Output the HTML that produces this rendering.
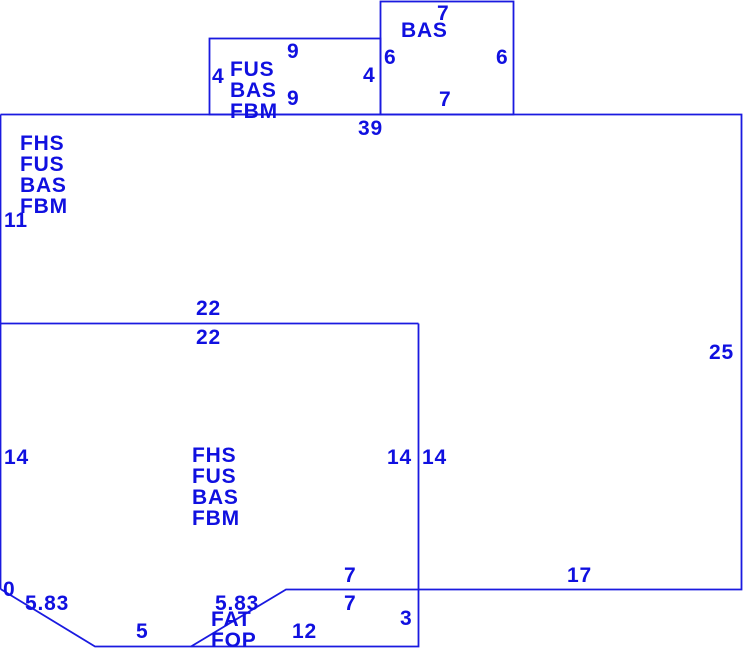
<!DOCTYPE html>
<html><head><meta charset="utf-8"><style>
html,body{margin:0;padding:0;background:#fff;width:752px;height:662px;overflow:hidden}
svg text{font-family:"Liberation Sans",sans-serif;font-weight:bold;font-size:21px;letter-spacing:0.8px;fill:#1010e0}
</style></head><body>
<svg width="752" height="662" xmlns="http://www.w3.org/2000/svg">
<g fill="none" stroke="#1a1ae0" stroke-width="1.8">
<rect x="209.5" y="38.5" width="171" height="76"/>
<rect x="380.5" y="1.5" width="133" height="113"/>
<polyline points="0.5,114.5 741.5,114.5 741.5,589.5 286,589.5 191,646.5"/>
<line x1="0.5" y1="114.5" x2="0.5" y2="589"/>
<line x1="0.5" y1="323.5" x2="418.5" y2="323.5"/>
<polyline points="418.5,323.5 418.5,646.5 95,646.5 0.5,589"/>
</g>
<text x="437" y="20">7</text>
<text x="401" y="37">BAS</text>
<text x="287" y="58">9</text>
<text x="384" y="64">6</text>
<text x="496" y="64">6</text>
<text x="212" y="83">4</text>
<text x="230" y="76">FUS</text>
<text x="363" y="82">4</text>
<text x="230" y="97">BAS</text>
<text x="287" y="105">9</text>
<text x="439" y="106">7</text>
<text x="230" y="118">FBM</text>
<text x="358" y="135">39</text>
<text x="20" y="150">FHS</text>
<text x="20" y="171">FUS</text>
<text x="20" y="192">BAS</text>
<text x="20" y="213">FBM</text>
<text x="4" y="227">11</text>
<text x="196" y="315">22</text>
<text x="196" y="344">22</text>
<text x="709" y="359">25</text>
<text x="4" y="464">14</text>
<text x="387" y="464">14</text>
<text x="422" y="464">14</text>
<text x="192" y="462">FHS</text>
<text x="192" y="483">FUS</text>
<text x="192" y="504">BAS</text>
<text x="192" y="525">FBM</text>
<text x="344" y="582">7</text>
<text x="567" y="582">17</text>
<text x="3" y="596">0</text>
<text x="25" y="610">5.83</text>
<text x="215" y="610">5.83</text>
<text x="344" y="610">7</text>
<text x="211" y="626">FAT</text>
<text x="400" y="625">3</text>
<text x="136" y="638">5</text>
<text x="292" y="638">12</text>
<text x="211" y="647">FOP</text>
</svg>
</body></html>
